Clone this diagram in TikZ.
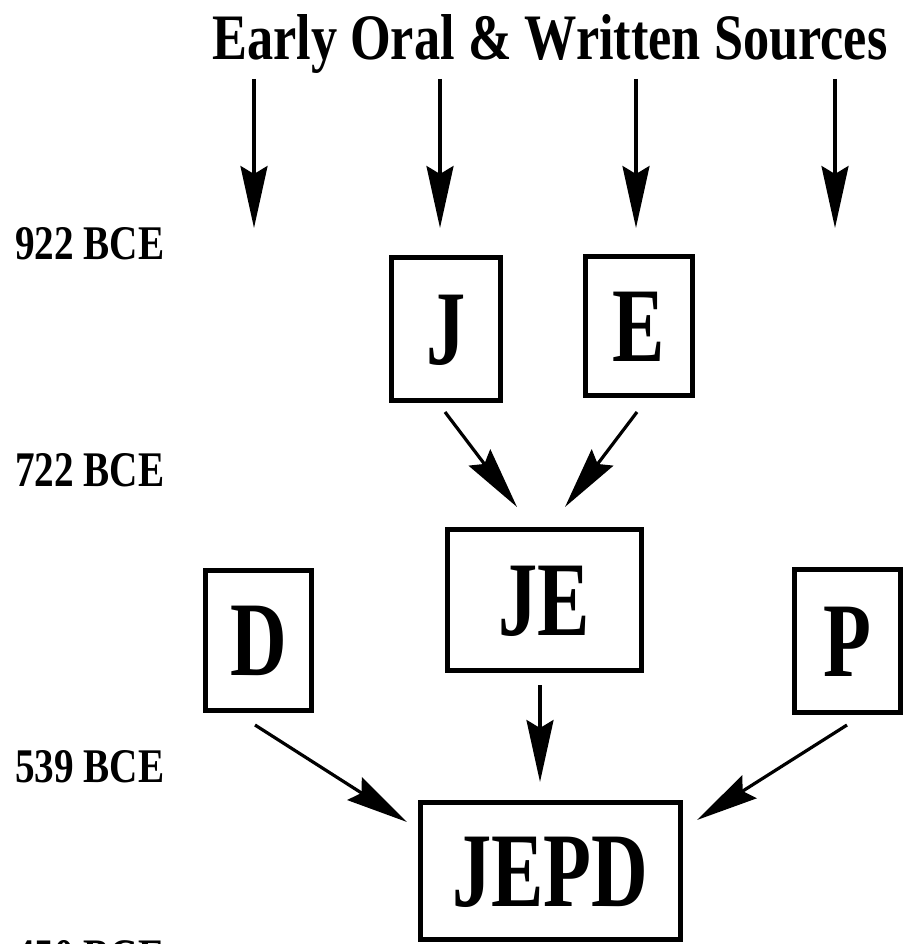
\documentclass[tikz,border=0pt]{standalone}
\usepackage{fontspec}
\setmainfont{Liberation Serif}
\usetikzlibrary{arrows.meta}
\newcommand\bigL[1]{\scalebox{0.74}[1]{\fontsize{106}{106}\selectfont\bfseries #1}}
\tikzset{
  srcbox/.style={draw, line width=5pt, inner sep=0pt, text height=70pt, text depth=0pt},
  arr/.style={line width=3.2pt, -{Stealth[length=62pt, width=27pt, inset=8pt]}},
  datelbl/.style={anchor=base west, inner sep=0pt},
}
\begin{document}
\begin{tikzpicture}[x=1pt, y=-1pt]
\clip (0,0) rectangle (906,944);
\fill[white] (0,0) rectangle (906,944);

% title
\node[anchor=base west, inner sep=0pt] (title) at (212,60)
  {\resizebox{675pt}{45pt}{\bfseries Early Oral \& Written Sources}};

% dates
\node[datelbl] (d922) at (15,259) {\resizebox{149pt}{32pt}{\bfseries 922 BCE}};
\node[datelbl] (d722) at (15,486) {\resizebox{149pt}{33pt}{\bfseries 722 BCE}};
\node[datelbl] (d539) at (15,782) {\resizebox{149pt}{32pt}{\bfseries 539 BCE}};
\node[datelbl] (d450) at (15,972) {\resizebox{149pt}{32pt}{\bfseries 450 BCE}};

% boxes
\node[srcbox, minimum width=109pt, minimum height=143pt] (J) at (446,329) {\bigL{J}};
\node[srcbox, minimum width=107pt, minimum height=139pt] (E) at (639,326) {\bigL{E}};
\node[srcbox, minimum width=106pt, minimum height=140pt] (D) at (258.5,640) {\bigL{D}};
\node[srcbox, minimum width=194pt, minimum height=141pt] (JE) at (544.5,600) {\bigL{JE}};
\node[srcbox, minimum width=106pt, minimum height=143pt] (P) at (847.5,641) {\bigL{P}};
\node[srcbox, minimum width=260pt, minimum height=137pt] (JEPD) at (550.5,871) {\bigL{JEPD}};

% top source arrows
\coordinate (s1) at (254,79);  \coordinate (t1) at (254,228);
\coordinate (s2) at (440,79);  \coordinate (t2) at (440,228);
\coordinate (s3) at (636,79);  \coordinate (t3) at (636,228);
\coordinate (s4) at (835,79);  \coordinate (t4) at (835,228);
\draw[arr] (s1) -- (t1);
\draw[arr] (s2) -- (t2);
\draw[arr] (s3) -- (t3);
\draw[arr] (s4) -- (t4);

% merging arrows
\coordinate (jA) at (445,412);  \coordinate (jB) at (517,507);
\coordinate (eA) at (637,412);  \coordinate (eB) at (565,507);
\coordinate (jeA) at (540,685); \coordinate (jeB) at (540,782);
\coordinate (dA) at (255,725);  \coordinate (dB) at (407,822);
\coordinate (pA) at (847,725);  \coordinate (pB) at (697,820);
\draw[arr] (jA) -- (jB);
\draw[arr] (eA) -- (eB);
\draw[arr] (jeA) -- (jeB);
\draw[arr] (dA) -- (dB);
\draw[arr] (pA) -- (pB);
\end{tikzpicture}
\end{document}
